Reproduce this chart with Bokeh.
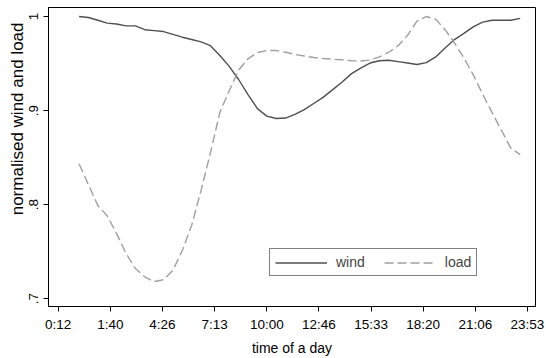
from bokeh.plotting import figure
from bokeh.models import ColumnDataSource, FixedTicker, Range1d, Legend, LegendItem, Title
from bokeh.embed import file_html
from bokeh.resources import INLINE

# Half-hourly time slots over one day
slots = ["0:00", "0:30", "1:00", "1:30", "2:00", "2:30", "3:00", "3:30",
         "4:00", "4:30", "5:00", "5:30", "6:00", "6:30", "7:00", "7:30",
         "8:00", "8:30", "9:00", "9:30", "10:00", "10:30", "11:00", "11:30",
         "12:00", "12:30", "13:00", "13:30", "14:00", "14:30", "15:00", "15:30",
         "16:00", "16:30", "17:00", "17:30", "18:00", "18:30", "19:00", "19:30",
         "20:00", "20:30", "21:00", "21:30", "22:00", "22:30", "23:00", "23:30"]

# Normalised wind generation
wind = [1.000, 0.999, 0.996, 0.993, 0.992, 0.990, 0.990, 0.986, 0.985, 0.984,
        0.981, 0.978, 0.9755, 0.973, 0.969, 0.9585, 0.947, 0.933, 0.917, 0.902,
        0.894, 0.8915, 0.892, 0.896, 0.901, 0.9075, 0.914, 0.922, 0.930, 0.939,
        0.945, 0.9505, 0.953, 0.9535, 0.952, 0.9505, 0.949, 0.951, 0.957, 0.9665,
        0.9755, 0.982, 0.989, 0.994, 0.996, 0.996, 0.996, 0.998]

# Normalised electricity load
load = [0.8433, 0.821, 0.799, 0.788, 0.769, 0.748, 0.732, 0.723, 0.718, 0.720,
        0.730, 0.751, 0.778, 0.815, 0.855, 0.898, 0.921, 0.943, 0.955, 0.9617,
        0.9638, 0.9638, 0.962, 0.9596, 0.958, 0.9564, 0.9553, 0.9546, 0.954, 0.953,
        0.9527, 0.9537, 0.957, 0.962, 0.969, 0.980, 0.995, 1.000, 0.997, 0.986,
        0.972, 0.956, 0.938, 0.9175, 0.898, 0.879, 0.860, 0.853]

# Axis tick labels
x_tick_labels = ["0:12", "1:40", "4:26", "7:13", "10:00", "12:46", "15:33", "18:20", "21:06", "23:53"]
y_ticks = [0.7, 0.8, 0.9, 1.0]
y_tick_labels = [".7", ".8", ".9", "1"]


def to_minutes(s):
    h, m = s.split(":")
    return int(h) * 60 + int(m)


minutes = [to_minutes(s) for s in slots]
src = ColumnDataSource(dict(t=minutes, wind=wind, load=load))

# ticks are spaced every 10000 seconds
x_ticks = [(-4000 + 10000 * k) / 60.0 for k in range(len(x_tick_labels))]

FONT = "Liberation Sans"

p = figure(width=546, height=358, output_backend="svg", toolbar_location=None,
           x_range=Range1d(-97.7, 1459.0), y_range=Range1d(0.6915, 1.0096),
           min_border_left=48, min_border_right=11, min_border_top=7, min_border_bottom=52)

p.background_fill_color = "white"
p.border_fill_color = "white"
p.outline_line_color = "black"
p.outline_line_width = 1
p.outline_line_alpha = 1
p.xgrid.visible = False
p.ygrid.visible = False

r_wind = p.line("t", "wind", source=src, line_color="#505050", line_width=1.4)
r_load = p.line("t", "load", source=src, line_color="#a0a0a0", line_width=1.4, line_dash="9 4")

xa = p.xaxis[0]
xa.ticker = FixedTicker(ticks=x_ticks)
xa.major_label_overrides = {t: lab for t, lab in zip(x_ticks, x_tick_labels)}
xa.axis_label = "time of a day"
xa.axis_label_text_font = FONT
xa.axis_label_text_font_size = "14px"
xa.axis_label_text_font_style = "normal"
xa.axis_label_standoff = 5
xa.major_label_text_font = FONT
xa.major_label_text_font_size = "13.5px"
xa.major_label_standoff = 5

ya = p.yaxis[0]
ya.ticker = FixedTicker(ticks=y_ticks)
ya.major_label_overrides = {t: lab for t, lab in zip(y_ticks, y_tick_labels)}
ya.major_label_orientation = "vertical"
ya.major_label_text_font = FONT
ya.major_label_text_font_size = "13.5px"
ya.major_label_standoff = 5

for ax in (xa, ya):
    ax.axis_line_color = "black"
    ax.axis_line_width = 1
    ax.major_tick_line_color = "black"
    ax.major_tick_line_width = 1
    ax.major_tick_out = 5
    ax.major_tick_in = 0
    ax.minor_tick_line_color = None
    ax.major_label_text_color = "black"
    ax.axis_label_text_color = "black"

ytitle = Title(text="normalised wind and load", align="right", offset=15,
               text_font=FONT, text_font_size="17px", text_font_style="normal",
               text_color="black", standoff=0)
p.add_layout(ytitle, "left")

legend = Legend(items=[LegendItem(label="wind", renderers=[r_wind]),
                       LegendItem(label="load", renderers=[r_load])],
                orientation="horizontal", location=(221, 30), margin=0,
                padding=5, spacing=19, glyph_width=52, glyph_height=15,
                label_height=15, label_standoff=9,
                label_text_font=FONT, label_text_font_size="14px",
                border_line_color="black", border_line_width=1,
                background_fill_color="white", background_fill_alpha=1)
p.add_layout(legend, "center")

open("out.html", "w").write(file_html(p, INLINE))
